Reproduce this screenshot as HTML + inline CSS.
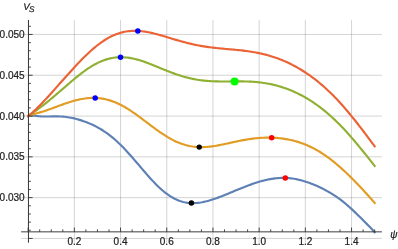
<!DOCTYPE html>
<html><head><meta charset="utf-8"><title>Plot</title>
<style>
html,body{margin:0;padding:0;background:#ffffff;}
body{width:398px;height:249px;overflow:hidden;position:relative;font-family:"Liberation Sans",sans-serif;}
svg text{font-family:"Liberation Sans",sans-serif;stroke:#222222;stroke-width:0.22px;}
svg{will-change:transform;}
</style></head><body>
<svg width="398" height="249" viewBox="0 0 398 249" style="position:absolute;left:0;top:0">
<rect width="398" height="249" fill="#ffffff"/>
<g stroke="#808080" stroke-opacity="0.4" stroke-width="0.85" fill="none"><path d="M74.35,19.9 V242.7"/><path d="M120.55,19.9 V242.7"/><path d="M166.75,19.9 V242.7"/><path d="M212.95,19.9 V242.7"/><path d="M259.15,19.9 V242.7"/><path d="M305.35,19.9 V242.7"/><path d="M351.55,19.9 V242.7"/><path d="M21.1,238.45 H381.9"/><path d="M21.1,197.65 H381.9"/><path d="M21.1,156.85 H381.9"/><path d="M21.1,116.05 H381.9"/><path d="M21.1,75.25 H381.9"/><path d="M21.1,34.45 H381.9"/></g>
<path d="M28.15,116.00 L29.73,115.70 L31.31,115.61 L32.90,115.67 L34.48,115.79 L36.06,115.95 L37.64,116.12 L39.23,116.26 L40.81,116.38 L42.39,116.46 L43.97,116.51 L45.55,116.53 L47.14,116.52 L48.72,116.50 L50.30,116.47 L51.88,116.44 L53.47,116.41 L55.05,116.39 L56.63,116.39 L58.21,116.41 L59.79,116.46 L61.38,116.54 L62.96,116.65 L64.54,116.79 L66.12,116.97 L67.70,117.19 L69.29,117.44 L70.87,117.72 L72.45,118.04 L74.03,118.39 L75.62,118.78 L77.20,119.19 L78.78,119.64 L80.36,120.12 L81.94,120.63 L83.53,121.17 L85.11,121.73 L86.69,122.33 L88.27,122.97 L89.86,123.63 L91.44,124.33 L93.02,125.06 L94.60,125.83 L96.18,126.63 L97.77,127.48 L99.35,128.36 L100.93,129.29 L102.51,130.26 L104.10,131.28 L105.68,132.35 L107.26,133.46 L108.84,134.63 L110.42,135.84 L112.01,137.11 L113.59,138.42 L115.17,139.79 L116.75,141.21 L118.33,142.67 L119.92,144.19 L121.50,145.75 L123.08,147.36 L124.66,149.00 L126.25,150.69 L127.83,152.41 L129.41,154.17 L130.99,155.95 L132.57,157.76 L134.16,159.59 L135.74,161.44 L137.32,163.29 L138.90,165.16 L140.49,167.02 L142.07,168.88 L143.65,170.73 L145.23,172.57 L146.81,174.39 L148.40,176.19 L149.98,177.95 L151.56,179.68 L153.14,181.37 L154.73,183.02 L156.31,184.63 L157.89,186.18 L159.47,187.67 L161.05,189.11 L162.64,190.49 L164.22,191.80 L165.80,193.04 L167.38,194.22 L168.97,195.32 L170.55,196.35 L172.13,197.31 L173.71,198.19 L175.29,199.00 L176.88,199.73 L178.46,200.39 L180.04,200.98 L181.62,201.49 L183.20,201.93 L184.79,202.30 L186.37,202.59 L187.95,202.82 L189.53,202.99 L191.12,203.09 L192.70,203.13 L194.28,203.11 L195.86,203.04 L197.44,202.91 L199.03,202.73 L200.61,202.50 L202.19,202.23 L203.77,201.92 L205.36,201.56 L206.94,201.17 L208.52,200.75 L210.10,200.29 L211.68,199.80 L213.27,199.29 L214.85,198.76 L216.43,198.20 L218.01,197.62 L219.60,197.03 L221.18,196.42 L222.76,195.80 L224.34,195.17 L225.92,194.53 L227.51,193.89 L229.09,193.23 L230.67,192.58 L232.25,191.92 L233.83,191.26 L235.42,190.61 L237.00,189.95 L238.58,189.30 L240.16,188.66 L241.75,188.02 L243.33,187.38 L244.91,186.76 L246.49,186.15 L248.07,185.55 L249.66,184.96 L251.24,184.38 L252.82,183.83 L254.40,183.28 L255.99,182.76 L257.57,182.26 L259.15,181.77 L260.73,181.31 L262.31,180.87 L263.90,180.46 L265.48,180.08 L267.06,179.72 L268.64,179.39 L270.23,179.09 L271.81,178.82 L273.39,178.58 L274.97,178.38 L276.55,178.21 L278.14,178.08 L279.72,177.98 L281.30,177.92 L282.88,177.90 L284.47,177.91 L286.05,177.96 L287.63,178.05 L289.21,178.18 L290.79,178.34 L292.38,178.54 L293.96,178.78 L295.54,179.06 L297.12,179.37 L298.70,179.72 L300.29,180.10 L301.87,180.51 L303.45,180.96 L305.03,181.44 L306.62,181.95 L308.20,182.48 L309.78,183.05 L311.36,183.65 L312.94,184.27 L314.53,184.92 L316.11,185.60 L317.69,186.30 L319.27,187.03 L320.86,187.79 L322.44,188.57 L324.02,189.38 L325.60,190.22 L327.18,191.09 L328.77,191.99 L330.35,192.92 L331.93,193.88 L333.51,194.88 L335.10,195.91 L336.68,196.98 L338.26,198.08 L339.84,199.23 L341.42,200.42 L343.01,201.65 L344.59,202.92 L346.17,204.23 L347.75,205.58 L349.33,206.97 L350.92,208.39 L352.50,209.85 L354.08,211.35 L355.66,212.86 L357.25,214.40 L358.83,215.96 L360.41,217.53 L361.99,219.11 L363.57,220.69 L365.16,222.28 L366.74,223.87 L368.32,225.47 L369.90,227.09 L371.49,228.73 L373.07,230.42 L374.65,232.20" stroke="#5e81b5" stroke-width="2.15" fill="none" stroke-linejoin="round" stroke-linecap="square"/>
<path d="M28.15,116.00 L29.73,115.42 L31.31,114.91 L32.90,114.43 L34.48,113.97 L36.06,113.52 L37.64,113.07 L39.23,112.61 L40.81,112.15 L42.39,111.66 L43.97,111.16 L45.55,110.65 L47.14,110.12 L48.72,109.57 L50.30,109.01 L51.88,108.45 L53.47,107.87 L55.05,107.28 L56.63,106.70 L58.21,106.11 L59.79,105.53 L61.38,104.95 L62.96,104.38 L64.54,103.82 L66.12,103.27 L67.70,102.74 L69.29,102.22 L70.87,101.73 L72.45,101.25 L74.03,100.80 L75.62,100.38 L77.20,99.98 L78.78,99.62 L80.36,99.28 L81.94,98.98 L83.53,98.71 L85.11,98.48 L86.69,98.28 L88.27,98.13 L89.86,98.01 L91.44,97.94 L93.02,97.91 L94.60,97.92 L96.18,97.97 L97.77,98.07 L99.35,98.22 L100.93,98.42 L102.51,98.66 L104.10,98.95 L105.68,99.29 L107.26,99.68 L108.84,100.11 L110.42,100.60 L112.01,101.13 L113.59,101.71 L115.17,102.34 L116.75,103.02 L118.33,103.74 L119.92,104.50 L121.50,105.31 L123.08,106.16 L124.66,107.05 L126.25,107.97 L127.83,108.94 L129.41,109.94 L130.99,110.97 L132.57,112.03 L134.16,113.11 L135.74,114.22 L137.32,115.36 L138.90,116.51 L140.49,117.68 L142.07,118.86 L143.65,120.05 L145.23,121.24 L146.81,122.44 L148.40,123.64 L149.98,124.84 L151.56,126.03 L153.14,127.21 L154.73,128.38 L156.31,129.53 L157.89,130.66 L159.47,131.78 L161.05,132.86 L162.64,133.93 L164.22,134.96 L165.80,135.96 L167.38,136.93 L168.97,137.85 L170.55,138.75 L172.13,139.60 L173.71,140.41 L175.29,141.17 L176.88,141.90 L178.46,142.57 L180.04,143.20 L181.62,143.79 L183.20,144.32 L184.79,144.81 L186.37,145.25 L187.95,145.64 L189.53,145.99 L191.12,146.29 L192.70,146.54 L194.28,146.75 L195.86,146.91 L197.44,147.03 L199.03,147.11 L200.61,147.15 L202.19,147.14 L203.77,147.11 L205.36,147.03 L206.94,146.93 L208.52,146.79 L210.10,146.62 L211.68,146.43 L213.27,146.21 L214.85,145.96 L216.43,145.70 L218.01,145.42 L219.60,145.12 L221.18,144.81 L222.76,144.49 L224.34,144.15 L225.92,143.81 L227.51,143.47 L229.09,143.12 L230.67,142.77 L232.25,142.42 L233.83,142.07 L235.42,141.73 L237.00,141.39 L238.58,141.06 L240.16,140.74 L241.75,140.43 L243.33,140.13 L244.91,139.84 L246.49,139.57 L248.07,139.31 L249.66,139.07 L251.24,138.84 L252.82,138.63 L254.40,138.44 L255.99,138.27 L257.57,138.12 L259.15,137.99 L260.73,137.87 L262.31,137.78 L263.90,137.71 L265.48,137.66 L267.06,137.63 L268.64,137.62 L270.23,137.64 L271.81,137.68 L273.39,137.74 L274.97,137.82 L276.55,137.93 L278.14,138.06 L279.72,138.22 L281.30,138.40 L282.88,138.60 L284.47,138.83 L286.05,139.09 L287.63,139.37 L289.21,139.68 L290.79,140.02 L292.38,140.38 L293.96,140.78 L295.54,141.20 L297.12,141.65 L298.70,142.14 L300.29,142.66 L301.87,143.20 L303.45,143.79 L305.03,144.40 L306.62,145.05 L308.20,145.73 L309.78,146.45 L311.36,147.21 L312.94,148.00 L314.53,148.83 L316.11,149.70 L317.69,150.60 L319.27,151.54 L320.86,152.52 L322.44,153.54 L324.02,154.59 L325.60,155.68 L327.18,156.80 L328.77,157.96 L330.35,159.15 L331.93,160.38 L333.51,161.64 L335.10,162.94 L336.68,164.26 L338.26,165.61 L339.84,167.00 L341.42,168.41 L343.01,169.84 L344.59,171.30 L346.17,172.79 L347.75,174.29 L349.33,175.82 L350.92,177.37 L352.50,178.94 L354.08,180.53 L355.66,182.14 L357.25,183.77 L358.83,185.42 L360.41,187.08 L361.99,188.77 L363.57,190.47 L365.16,192.20 L366.74,193.95 L368.32,195.72 L369.90,197.50 L371.49,199.32 L373.07,201.15 L374.65,203.00" stroke="#e19c24" stroke-width="2.15" fill="none" stroke-linejoin="round" stroke-linecap="square"/>
<path d="M28.15,116.00 L29.73,114.94 L31.31,113.87 L32.90,112.77 L34.48,111.66 L36.06,110.53 L37.64,109.37 L39.23,108.20 L40.81,107.01 L42.39,105.80 L43.97,104.58 L45.55,103.33 L47.14,102.07 L48.72,100.79 L50.30,99.49 L51.88,98.18 L53.47,96.86 L55.05,95.52 L56.63,94.17 L58.21,92.81 L59.79,91.45 L61.38,90.08 L62.96,88.71 L64.54,87.34 L66.12,85.97 L67.70,84.60 L69.29,83.24 L70.87,81.89 L72.45,80.55 L74.03,79.23 L75.62,77.92 L77.20,76.63 L78.78,75.37 L80.36,74.13 L81.94,72.92 L83.53,71.74 L85.11,70.60 L86.69,69.49 L88.27,68.41 L89.86,67.38 L91.44,66.39 L93.02,65.44 L94.60,64.54 L96.18,63.69 L97.77,62.88 L99.35,62.13 L100.93,61.42 L102.51,60.77 L104.10,60.18 L105.68,59.63 L107.26,59.14 L108.84,58.71 L110.42,58.33 L112.01,58.01 L113.59,57.74 L115.17,57.52 L116.75,57.36 L118.33,57.25 L119.92,57.19 L121.50,57.18 L123.08,57.23 L124.66,57.32 L126.25,57.46 L127.83,57.64 L129.41,57.87 L130.99,58.14 L132.57,58.45 L134.16,58.80 L135.74,59.19 L137.32,59.61 L138.90,60.06 L140.49,60.54 L142.07,61.05 L143.65,61.58 L145.23,62.13 L146.81,62.71 L148.40,63.30 L149.98,63.91 L151.56,64.53 L153.14,65.16 L154.73,65.80 L156.31,66.45 L157.89,67.10 L159.47,67.75 L161.05,68.41 L162.64,69.05 L164.22,69.70 L165.80,70.34 L167.38,70.97 L168.97,71.59 L170.55,72.20 L172.13,72.80 L173.71,73.38 L175.29,73.94 L176.88,74.49 L178.46,75.02 L180.04,75.53 L181.62,76.02 L183.20,76.50 L184.79,76.94 L186.37,77.37 L187.95,77.78 L189.53,78.16 L191.12,78.52 L192.70,78.85 L194.28,79.17 L195.86,79.46 L197.44,79.73 L199.03,79.97 L200.61,80.20 L202.19,80.40 L203.77,80.58 L205.36,80.74 L206.94,80.88 L208.52,81.01 L210.10,81.12 L211.68,81.21 L213.27,81.28 L214.85,81.34 L216.43,81.39 L218.01,81.43 L219.60,81.45 L221.18,81.47 L222.76,81.47 L224.34,81.47 L225.92,81.47 L227.51,81.46 L229.09,81.45 L230.67,81.43 L232.25,81.42 L233.83,81.40 L235.42,81.39 L237.00,81.39 L238.58,81.39 L240.16,81.39 L241.75,81.40 L243.33,81.42 L244.91,81.45 L246.49,81.49 L248.07,81.55 L249.66,81.61 L251.24,81.69 L252.82,81.79 L254.40,81.90 L255.99,82.03 L257.57,82.18 L259.15,82.34 L260.73,82.52 L262.31,82.73 L263.90,82.95 L265.48,83.19 L267.06,83.46 L268.64,83.75 L270.23,84.06 L271.81,84.39 L273.39,84.75 L274.97,85.13 L276.55,85.54 L278.14,85.97 L279.72,86.42 L281.30,86.90 L282.88,87.41 L284.47,87.94 L286.05,88.49 L287.63,89.08 L289.21,89.69 L290.79,90.32 L292.38,90.99 L293.96,91.68 L295.54,92.40 L297.12,93.14 L298.70,93.92 L300.29,94.72 L301.87,95.55 L303.45,96.41 L305.03,97.30 L306.62,98.22 L308.20,99.17 L309.78,100.14 L311.36,101.15 L312.94,102.19 L314.53,103.27 L316.11,104.37 L317.69,105.50 L319.27,106.67 L320.86,107.87 L322.44,109.10 L324.02,110.37 L325.60,111.67 L327.18,113.00 L328.77,114.36 L330.35,115.76 L331.93,117.19 L333.51,118.66 L335.10,120.15 L336.68,121.68 L338.26,123.25 L339.84,124.84 L341.42,126.47 L343.01,128.12 L344.59,129.81 L346.17,131.53 L347.75,133.27 L349.33,135.04 L350.92,136.84 L352.50,138.66 L354.08,140.50 L355.66,142.37 L357.25,144.25 L358.83,146.16 L360.41,148.08 L361.99,150.02 L363.57,151.97 L365.16,153.94 L366.74,155.92 L368.32,157.91 L369.90,159.92 L371.49,161.93 L373.07,163.95 L374.65,165.99" stroke="#8fb032" stroke-width="2.15" fill="none" stroke-linejoin="round" stroke-linecap="square"/>
<path d="M28.15,116.00 L29.73,114.79 L31.31,113.48 L32.90,112.11 L34.48,110.66 L36.06,109.16 L37.64,107.62 L39.23,106.03 L40.81,104.41 L42.39,102.75 L43.97,101.08 L45.55,99.38 L47.14,97.66 L48.72,95.93 L50.30,94.19 L51.88,92.43 L53.47,90.67 L55.05,88.90 L56.63,87.12 L58.21,85.34 L59.79,83.56 L61.38,81.77 L62.96,79.99 L64.54,78.21 L66.12,76.44 L67.70,74.67 L69.29,72.91 L70.87,71.16 L72.45,69.42 L74.03,67.69 L75.62,65.98 L77.20,64.30 L78.78,62.63 L80.36,60.98 L81.94,59.36 L83.53,57.77 L85.11,56.20 L86.69,54.67 L88.27,53.17 L89.86,51.71 L91.44,50.29 L93.02,48.91 L94.60,47.56 L96.18,46.27 L97.77,45.02 L99.35,43.81 L100.93,42.66 L102.51,41.55 L104.10,40.50 L105.68,39.50 L107.26,38.55 L108.84,37.66 L110.42,36.82 L112.01,36.04 L113.59,35.32 L115.17,34.65 L116.75,34.03 L118.33,33.47 L119.92,32.97 L121.50,32.52 L123.08,32.13 L124.66,31.79 L126.25,31.50 L127.83,31.27 L129.41,31.08 L130.99,30.95 L132.57,30.86 L134.16,30.82 L135.74,30.82 L137.32,30.87 L138.90,30.96 L140.49,31.09 L142.07,31.25 L143.65,31.45 L145.23,31.68 L146.81,31.95 L148.40,32.24 L149.98,32.56 L151.56,32.91 L153.14,33.28 L154.73,33.67 L156.31,34.07 L157.89,34.50 L159.47,34.94 L161.05,35.39 L162.64,35.84 L164.22,36.31 L165.80,36.79 L167.38,37.26 L168.97,37.74 L170.55,38.22 L172.13,38.70 L173.71,39.18 L175.29,39.65 L176.88,40.12 L178.46,40.58 L180.04,41.03 L181.62,41.48 L183.20,41.91 L184.79,42.33 L186.37,42.75 L187.95,43.14 L189.53,43.53 L191.12,43.90 L192.70,44.26 L194.28,44.61 L195.86,44.94 L197.44,45.25 L199.03,45.56 L200.61,45.85 L202.19,46.12 L203.77,46.38 L205.36,46.63 L206.94,46.86 L208.52,47.09 L210.10,47.30 L211.68,47.50 L213.27,47.69 L214.85,47.87 L216.43,48.04 L218.01,48.20 L219.60,48.36 L221.18,48.51 L222.76,48.66 L224.34,48.80 L225.92,48.95 L227.51,49.08 L229.09,49.22 L230.67,49.36 L232.25,49.50 L233.83,49.65 L235.42,49.79 L237.00,49.95 L238.58,50.10 L240.16,50.27 L241.75,50.44 L243.33,50.62 L244.91,50.82 L246.49,51.02 L248.07,51.24 L249.66,51.46 L251.24,51.71 L252.82,51.96 L254.40,52.23 L255.99,52.52 L257.57,52.83 L259.15,53.15 L260.73,53.49 L262.31,53.85 L263.90,54.23 L265.48,54.63 L267.06,55.04 L268.64,55.49 L270.23,55.95 L271.81,56.43 L273.39,56.94 L274.97,57.46 L276.55,58.02 L278.14,58.59 L279.72,59.19 L281.30,59.81 L282.88,60.46 L284.47,61.13 L286.05,61.83 L287.63,62.55 L289.21,63.30 L290.79,64.07 L292.38,64.87 L293.96,65.69 L295.54,66.55 L297.12,67.43 L298.70,68.33 L300.29,69.27 L301.87,70.23 L303.45,71.22 L305.03,72.24 L306.62,73.28 L308.20,74.36 L309.78,75.47 L311.36,76.60 L312.94,77.77 L314.53,78.97 L316.11,80.19 L317.69,81.45 L319.27,82.74 L320.86,84.07 L322.44,85.42 L324.02,86.81 L325.60,88.23 L327.18,89.69 L328.77,91.17 L330.35,92.69 L331.93,94.25 L333.51,95.83 L335.10,97.45 L336.68,99.10 L338.26,100.79 L339.84,102.51 L341.42,104.26 L343.01,106.03 L344.59,107.84 L346.17,109.68 L347.75,111.55 L349.33,113.45 L350.92,115.37 L352.50,117.32 L354.08,119.29 L355.66,121.28 L357.25,123.29 L358.83,125.33 L360.41,127.38 L361.99,129.44 L363.57,131.52 L365.16,133.61 L366.74,135.71 L368.32,137.82 L369.90,139.93 L371.49,142.05 L373.07,144.17 L374.65,146.30" stroke="#eb6235" stroke-width="2.15" fill="none" stroke-linejoin="round" stroke-linecap="square"/>
<path d="M21.1,231.85 H381.9" stroke="#333333" stroke-width="0.95" fill="none"/>
<path d="M28.45,19.9 V242.7" stroke="#333333" stroke-width="1.0" fill="none"/>
<path d="M28.15,231.85 v-4.3 M39.70,231.85 v-2.5 M51.25,231.85 v-2.5 M62.80,231.85 v-2.5 M74.35,231.85 v-4.3 M85.90,231.85 v-2.5 M97.45,231.85 v-2.5 M109.00,231.85 v-2.5 M120.55,231.85 v-4.3 M132.10,231.85 v-2.5 M143.65,231.85 v-2.5 M155.20,231.85 v-2.5 M166.75,231.85 v-4.3 M178.30,231.85 v-2.5 M189.85,231.85 v-2.5 M201.40,231.85 v-2.5 M212.95,231.85 v-4.3 M224.50,231.85 v-2.5 M236.05,231.85 v-2.5 M247.60,231.85 v-2.5 M259.15,231.85 v-4.3 M270.70,231.85 v-2.5 M282.25,231.85 v-2.5 M293.80,231.85 v-2.5 M305.35,231.85 v-4.3 M316.90,231.85 v-2.5 M328.45,231.85 v-2.5 M340.00,231.85 v-2.5 M351.55,231.85 v-4.3 M363.10,231.85 v-2.5 M374.65,231.85 v-2.5 M28.45,238.45 h4.2 M28.45,230.29 h2.4 M28.45,222.13 h2.4 M28.45,213.97 h2.4 M28.45,205.81 h2.4 M28.45,197.65 h4.2 M28.45,189.49 h2.4 M28.45,181.33 h2.4 M28.45,173.17 h2.4 M28.45,165.01 h2.4 M28.45,156.85 h4.2 M28.45,148.69 h2.4 M28.45,140.53 h2.4 M28.45,132.37 h2.4 M28.45,124.21 h2.4 M28.45,116.05 h4.2 M28.45,107.89 h2.4 M28.45,99.73 h2.4 M28.45,91.57 h2.4 M28.45,83.41 h2.4 M28.45,75.25 h4.2 M28.45,67.09 h2.4 M28.45,58.93 h2.4 M28.45,50.77 h2.4 M28.45,42.61 h2.4 M28.45,34.45 h4.2 M28.45,26.29 h2.4" stroke="#333333" stroke-width="0.9" fill="none"/>
<circle cx="137.8" cy="30.89" r="2.75" fill="#0000ff"/>
<circle cx="120.5" cy="57.18" r="2.75" fill="#0000ff"/>
<circle cx="95.2" cy="97.93" r="2.75" fill="#0000ff"/>
<circle cx="234.6" cy="81.40" r="4.0" fill="#00ff00"/>
<circle cx="199.25" cy="147.12" r="2.7" fill="#000000"/>
<circle cx="191.4" cy="203.10" r="2.75" fill="#000000"/>
<circle cx="271.7" cy="137.68" r="2.75" fill="#ff0000"/>
<circle cx="285.3" cy="177.93" r="2.75" fill="#ff0000"/>
<text x="74.35" y="245.0" text-anchor="middle" font-size="10" fill="#222222">0.2</text>
<text x="120.55" y="245.0" text-anchor="middle" font-size="10" fill="#222222">0.4</text>
<text x="166.75" y="245.0" text-anchor="middle" font-size="10" fill="#222222">0.6</text>
<text x="212.95" y="245.0" text-anchor="middle" font-size="10" fill="#222222">0.8</text>
<text x="259.15" y="245.0" text-anchor="middle" font-size="10" fill="#222222">1.0</text>
<text x="305.35" y="245.0" text-anchor="middle" font-size="10" fill="#222222">1.2</text>
<text x="351.55" y="245.0" text-anchor="middle" font-size="10" fill="#222222">1.4</text>
<text x="24.6" y="201.20" text-anchor="end" font-size="10" fill="#222222">0.030</text>
<text x="24.6" y="160.40" text-anchor="end" font-size="10" fill="#222222">0.035</text>
<text x="24.6" y="119.60" text-anchor="end" font-size="10" fill="#222222">0.040</text>
<text x="24.6" y="78.80" text-anchor="end" font-size="10" fill="#222222">0.045</text>
<text x="24.6" y="38.00" text-anchor="end" font-size="10" fill="#222222">0.050</text>
<text x="23.3" y="9.8" font-size="9.6" font-style="italic" fill="#222222" style="text-rendering:geometricPrecision">V<tspan font-size="8.3" dy="2.1" dx="-0.7">S</tspan></text>
<text x="390.2" y="237.6" font-size="10" font-style="italic" fill="#222222">ψ</text>
</svg>
</body></html>
